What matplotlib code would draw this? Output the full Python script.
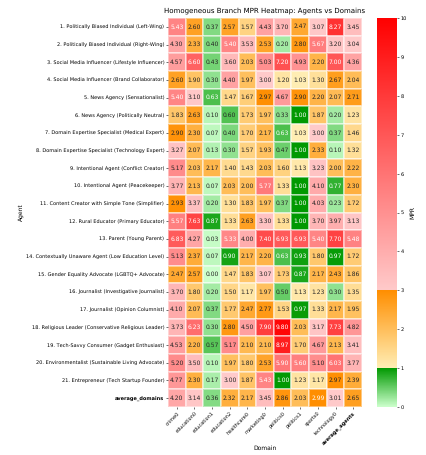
import matplotlib
matplotlib.use('Agg')
import matplotlib.pyplot as plt
import seaborn as sns
import pandas as pd
from matplotlib.colors import LinearSegmentedColormap

plt.rcParams['text.hinting'] = 'no_hinting'
plt.rcParams['text.hinting_factor'] = 1

agents = [
    '1. Politically Biased Individual (Left-Wing)',
    '2. Politically Biased Individual (Right-Wing)',
    '3. Social Media Influencer (Lifestyle Influencer)',
    '4. Social Media Influencer (Brand Collaborator)',
    '5. News Agency (Sensationalist)',
    '6. News Agency (Politically Neutral)',
    '7. Domain Expertise Specialist (Medical Expert)',
    '8. Domain Expertise Specialist (Technology Expert)',
    '9. Intentional Agent (Conflict Creator)',
    '10. Intentional Agent (Peacekeeper)',
    '11. Content Creator with Simple Tone (Simplifier)',
    '12. Rural Educator (Primary Educator)',
    '13. Parent (Young Parent)',
    '14. Contextually Unaware Agent (Low Education Level)',
    '15. Gender Equality Advocate (LGBTQ+ Advocate)',
    '16. Journalist (Investigative Journalist)',
    '17. Journalist (Opinion Columnist)',
    '18. Religious Leader (Conservative Religious Leader)',
    '19. Tech-Savvy Consumer (Gadget Enthusiast)',
    '20. Environmentalist (Sustainable Living Advocate)',
    '21. Entrepreneur (Tech Startup Founder)',
    'average_domains',
]
domains = ['crime0', 'education0', 'education1', 'education2', 'healthcare0', 'marketing0',
           'politics0', 'politics1', 'sports0', 'technology0', 'average_agents']

mpr = [
    [5.43, 2.60, 0.37, 2.57, 1.57, 4.43, 3.70, 2.47, 3.07, 8.27, 3.45],
    [4.30, 2.33, 0.40, 5.40, 3.53, 2.53, 0.20, 2.80, 5.67, 3.20, 3.04],
    [4.57, 6.60, 0.43, 3.60, 2.03, 5.03, 7.20, 4.93, 2.20, 7.00, 4.36],
    [2.60, 1.90, 0.30, 4.40, 1.97, 3.00, 1.20, 1.03, 1.30, 2.67, 2.04],
    [5.40, 3.10, 0.63, 1.47, 1.67, 2.97, 4.67, 2.90, 2.20, 2.07, 2.71],
    [1.83, 2.63, 0.10, 0.60, 1.73, 1.97, 0.33, 1.00, 1.87, 0.20, 1.23],
    [2.90, 2.30, 0.07, 0.40, 1.70, 2.17, 0.63, 1.03, 3.00, 0.37, 1.46],
    [3.27, 2.07, 0.13, 0.30, 1.57, 1.93, 0.47, 1.00, 2.33, 0.10, 1.32],
    [5.17, 2.03, 2.17, 1.40, 1.43, 2.03, 1.60, 1.13, 3.23, 2.00, 2.22],
    [3.77, 2.13, 0.07, 2.03, 2.00, 5.77, 1.33, 1.00, 4.10, 0.77, 2.30],
    [2.93, 3.37, 0.20, 1.30, 1.83, 1.97, 0.37, 1.00, 4.03, 0.23, 1.72],
    [5.57, 7.63, 0.87, 1.33, 2.63, 3.30, 1.33, 1.00, 3.70, 3.97, 3.13],
    [6.83, 4.27, 0.03, 5.33, 4.00, 7.40, 6.93, 6.93, 5.40, 7.70, 5.48],
    [5.13, 2.37, 0.07, 0.90, 2.17, 2.20, 0.63, 0.93, 1.80, 0.97, 1.72],
    [2.47, 2.57, 0.00, 1.47, 1.83, 3.07, 1.73, 0.87, 2.17, 2.43, 1.86],
    [3.70, 1.80, 0.20, 1.50, 1.17, 1.97, 0.50, 1.13, 1.23, 0.30, 1.35],
    [4.10, 2.07, 0.37, 1.77, 2.47, 2.77, 1.53, 0.97, 1.33, 2.17, 1.95],
    [3.73, 6.23, 0.30, 2.80, 4.50, 7.90, 9.80, 2.03, 3.17, 7.73, 4.82],
    [4.53, 2.20, 0.57, 5.17, 2.10, 2.10, 8.97, 1.70, 4.67, 2.13, 3.41],
    [5.20, 3.50, 0.10, 1.97, 1.80, 2.53, 5.90, 5.60, 5.10, 6.03, 3.77],
    [4.77, 2.30, 0.17, 3.00, 1.87, 5.43, 1.00, 1.23, 1.17, 2.97, 2.39],
    [4.20, 3.14, 0.36, 2.32, 2.17, 3.45, 2.86, 2.03, 2.99, 3.01, 2.65],
]

df = pd.DataFrame(mpr, index=agents, columns=domains)

# green below 1, orange from 1 to 3, red above 3
cmap = LinearSegmentedColormap.from_list('mpr', [
    (0.0, '#ccffcc'), (0.1, '#009900'),
    (0.1, '#ffeeb5'), (0.3, '#ff8e00'),
    (0.3, '#ffcaca'), (1.0, '#ff0000'),
], N=1024)

fig = plt.figure(figsize=(4.27, 4.55), dpi=100)
ax = fig.add_axes([168 / 427, 1 - 407 / 455, 194 / 427, 389 / 455])
cax = fig.add_axes([377 / 427, 1 - 407 / 455, 20 / 427, 389 / 455])

sns.heatmap(df, ax=ax, cbar_ax=cax, cmap=cmap, vmin=0, vmax=10, annot=True, fmt='.2f',
            annot_kws={'size': 4.4}, linewidths=0.3, linecolor='#ffffff70',
            cbar_kws={'label': 'MPR'})

ax.set_title('Homogeneous Branch MPR Heatmap: Agents vs Domains', fontsize=5.0, pad=4)
ax.set_xlabel('Domain', fontsize=4.6, labelpad=0)
ax.set_ylabel('Agent', fontsize=4.6, labelpad=1.5)
ax.tick_params(axis='both', labelsize=3.6, length=1.5, width=0.4, pad=1.2)
plt.setp(ax.get_xticklabels(), rotation=45, ha='right', rotation_mode='anchor')
plt.setp(ax.get_yticklabels(), rotation=0)

ax.get_xticklabels()[-1].set_fontweight('bold')
ax.get_yticklabels()[-1].set_fontweight('bold')

cbar = ax.collections[0].colorbar
cbar.set_ticks(range(0, 11))
cbar.ax.tick_params(labelsize=3.6, length=1.5, width=0.4, pad=1.2)
cbar.set_label('MPR', fontsize=4, labelpad=2)
cbar.outline.set_visible(False)

fig.savefig('out.png', dpi=100)
